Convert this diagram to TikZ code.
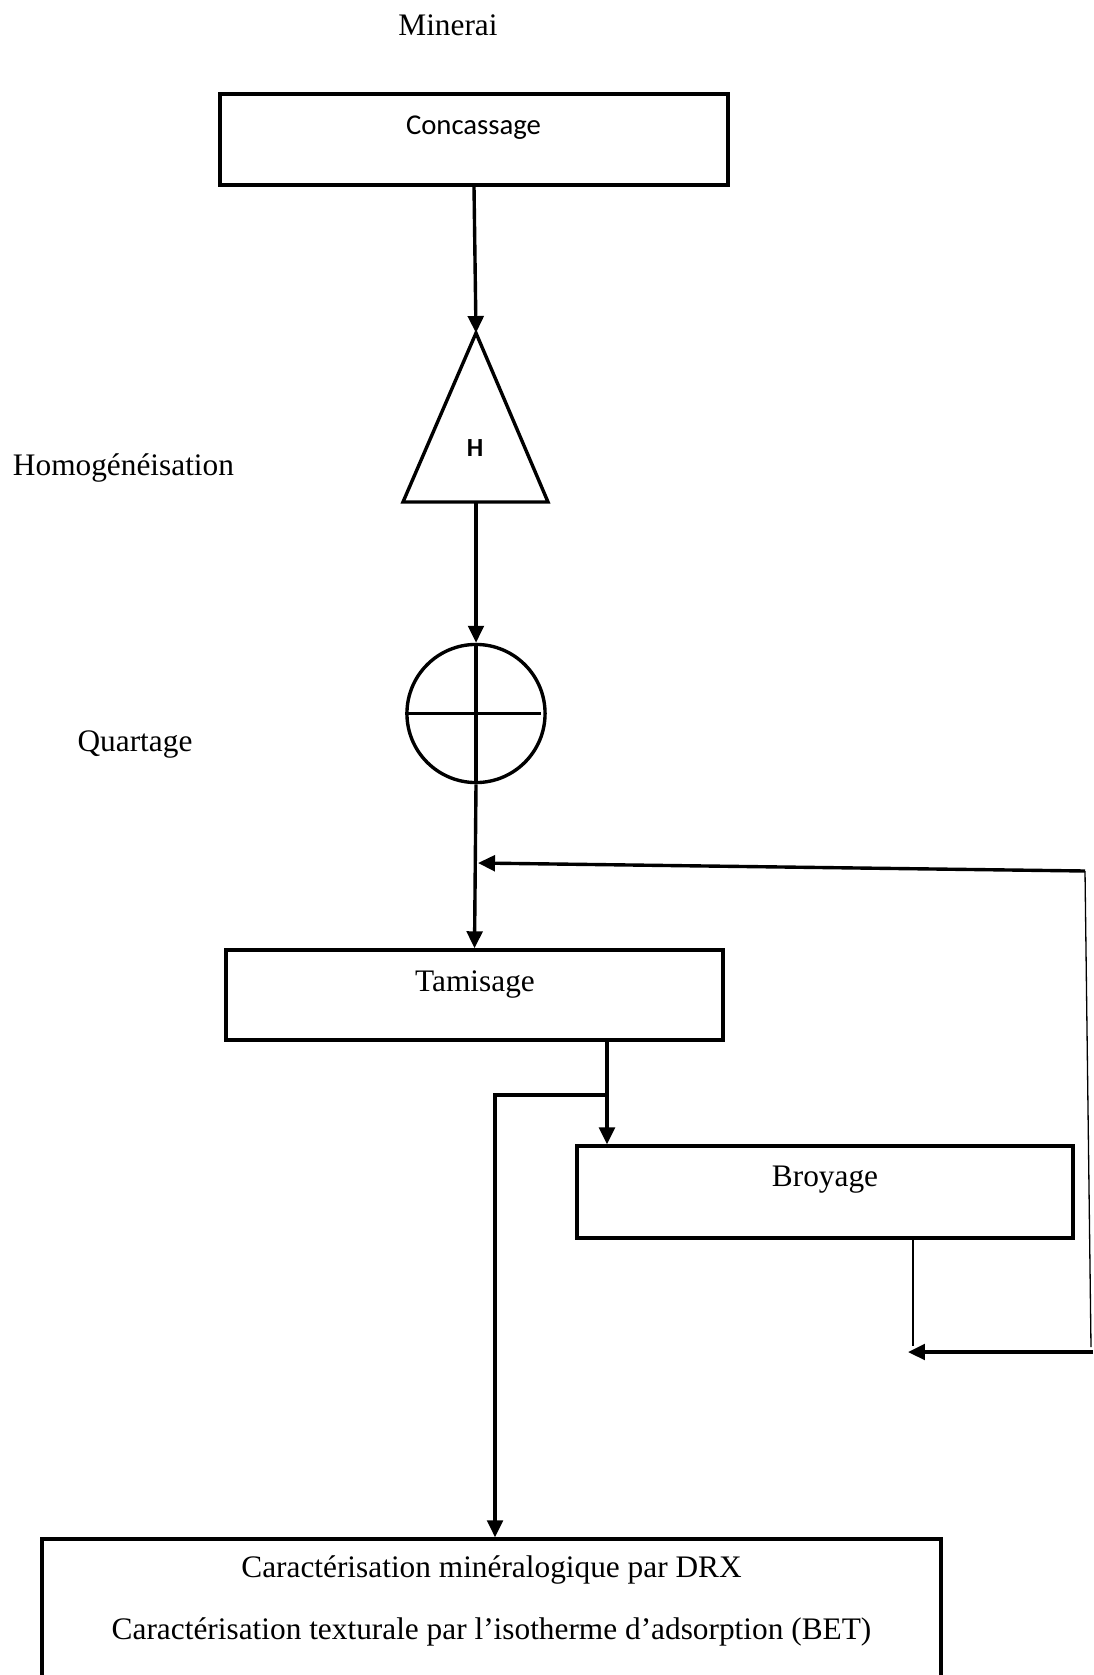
\documentclass[tikz,border=0pt]{standalone}
\usepackage{fontspec}
\setmainfont{Liberation Serif}
\newfontfamily\calibri{Carlito}
\usetikzlibrary{arrows.meta}

\begin{document}
\begin{tikzpicture}
  [x=0.383pt,y=-0.383pt,font=\fontsize{12}{14}\selectfont,
   caja/.style={rectangle,draw=black,line width=1.3pt,inner sep=0pt},
   flecha/.style={line width=1.3pt,-{Triangle[length=6.5pt,width=6pt]}},
   fina/.style={line width=0.5pt}]
  \useasboundingbox (0,0) rectangle (1093,1675);

  % Etiquetas de las etapas
  \node (minerai) at (448,25)    {Minerai};
  \node (homog)   at (123.5,468) {Homogénéisation};
  \node (quart)   at (135,745)   {Quartage};

  % Cajas del proceso
  \node[caja,minimum width=194.6pt,minimum height=34.9pt] (concassage) at (474,139.5) {};
  \node[font=\calibri\fontsize{11}{13}\selectfont] (concassage-txt) at (473.5,128) {Concassage};
  \node[caja,minimum width=190.4pt,minimum height=34.5pt] (tamisage) at (474.5,995) {};
  \node (tamisage-txt) at (475,984) {Tamisage};
  \node[caja,minimum width=190pt,minimum height=35.2pt] (broyage) at (825,1192) {};
  \node (broyage-txt) at (825,1180) {Broyage};
  \node[caja,minimum width=344.3pt,minimum height=61.7pt] (analyse) at (491.5,1619.5) {};
  \node (drx) at (491.5,1570) {Caractérisation minéralogique par DRX};
  \node (bet) at (491.5,1632) {Caractérisation texturale par l’isotherme d’adsorption (BET)};

  % Triangulo de homogeneizacion
  \coordinate (h-apex) at (476,333);
  \coordinate (h-base) at (476,502);
  \coordinate (h-der)  at (548,502);
  \coordinate (h-izq)  at (403,502);
  \draw[line width=1.3pt] (h-apex) -- (h-der) -- (h-izq) -- cycle;
  \node[font=\calibri\bfseries\fontsize{10}{12}\selectfont] (h) at (475,448) {H};

  % Circulo de cuarteo
  \node[circle,draw,line width=1.3pt,minimum size=52.9pt,inner sep=0pt] (quartage) at (476,713.5) {};
  \draw[line width=1.2pt] (quartage.north) -- (quartage.south);
  \draw[line width=1.2pt] (quartage.west) -- ([xshift=-2.3pt]quartage.east);

  % Flechas principales
  \foreach \desde/\hasta in {concassage.south/h-apex, h-base/quartage.north, quartage.south/tamisage.north}
    \draw[flecha] (\desde) -- (\hasta);

  % Salidas del tamizado
  \coordinate (rama)     at (607,1095);
  \coordinate (rama-izq) at (495,1095);
  \draw[flecha] (rama |- tamisage.south) -- (rama |- broyage.north);
  \draw[flecha] (rama) -- (rama-izq) -- (rama-izq |- analyse.north);

  % Retorno del molido
  \coordinate (union)   at (478,863);
  \coordinate (esq-sup) at (1085,871);
  \coordinate (esq-inf) at (1091,1347);
  \coordinate (salida)  at (913,1346);
  \coordinate (borde)   at (1093,1352);
  \coordinate (punta)   at (908,1352);
  \draw[fina] (salida |- broyage.south) -- (salida);
  \draw[flecha] (borde) -- (punta);
  \draw[fina] (esq-inf) -- (esq-sup);
  \draw[flecha] (esq-sup) -- (union);
\end{tikzpicture}
\end{document}
